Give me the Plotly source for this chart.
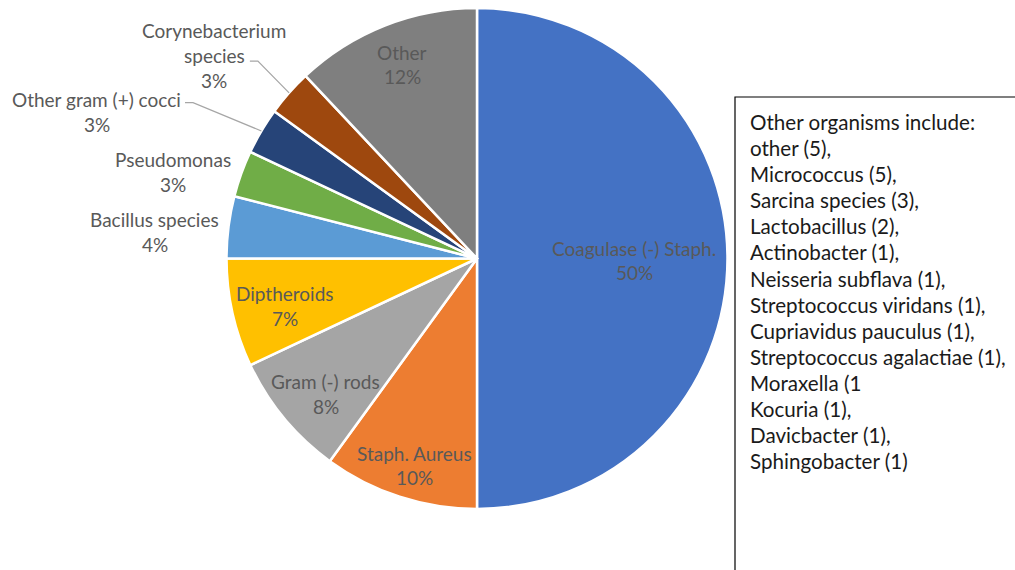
import math
import plotly.graph_objects as go

# Organism share of isolates (percent)
organisms = [
    "Coagulase (-) Staph.",
    "Staph. Aureus",
    "Gram (-) rods",
    "Diptheroids",
    "Bacillus species",
    "Pseudomonas",
    "Other gram (+) cocci",
    "Corynebacterium species",
    "Other",
]
shares = [50, 10, 8, 7, 4, 3, 3, 3, 12]

# Caption lines drawn for each slice name
label_lines = [
    ["Coagulase (-) Staph."],
    ["Staph. Aureus"],
    ["Gram (-) rods"],
    ["Diptheroids"],
    ["Bacillus species"],
    ["Pseudomonas"],
    ["Other gram (+) cocci"],
    ["Corynebacterium", "species"],
    ["Other"],
]

other_list = [
    "Other organisms include:",
    "other (5),",
    "Micrococcus (5),",
    "Sarcina species (3),",
    "Lactobacillus (2),",
    "Actinobacter (1),",
    "Neisseria subflava (1),",
    "Streptococcus viridans (1),",
    "Cupriavidus pauculus (1),",
    "Streptococcus agalactiae (1),",
    "Moraxella (1",
    "Kocuria (1),",
    "Davicbacter (1),",
    "Sphingobacter (1)",
]

colors = ["#4472C4", "#ED7D31", "#A5A5A5", "#FFC000", "#5B9BD5",
          "#70AD47", "#264478", "#9E480E", "#7F7F7F"]

W, H = 1015, 570
CX, CY, R = 477.0, 258.5, 250.5
FONT = "Lato"
LABEL_COLOR = "#595959"
LABEL_SIZE = 19
LABEL_STEP = 24.8
BOX_SIZE = 20.6
BOX_STEP = 26.1

# label placement: (radius factor, angle nudge in degrees)
placement = [
    (0.627, 0.7),
    (0.863, -1.2),
    (0.81, -2.2),
    (0.79, -1.4),
    (1.29, -2.5),
    (1.26, -3.9),
    (1.628, -9.5),
    (1.325, -3.7),
    (0.83, 0.5),
]
# leader lines: index -> (start offset from label centre in px, horizontal run)
leaders = {6: (88.5, -9, 8), 7: (35.5, 5.5, 8)}


def px(x, y):
    return x / W, 1 - y / H


fig = go.Figure()
fig.add_trace(go.Pie(
    labels=organisms,
    values=shares,
    sort=False,
    direction="clockwise",
    rotation=0,
    marker=dict(colors=colors, line=dict(color="white", width=2.5)),
    textinfo="none",
    hoverinfo="label+percent",
    showlegend=False,
    domain=dict(x=[(CX - R) / W, (CX + R) / W],
                y=[1 - (CY + R) / H, 1 - (CY - R) / H]),
))

total = sum(shares)
annotations = []
shapes = []
cum = 0.0
for i, (lines, v) in enumerate(zip(label_lines, shares)):
    mid = (cum + v / 2) / total
    cum += v
    theta = math.radians(mid * 360)
    rf, nudge = placement[i]
    t = theta + math.radians(nudge)
    lx = CX + rf * R * math.sin(t)
    ly = CY - rf * R * math.cos(t)
    pct = round(v / total * 100)
    rows = lines + [f"{pct}%"]
    n = len(rows)
    for k, row in enumerate(rows):
        ry = ly + (k - (n - 1) / 2) * LABEL_STEP
        ax, ay = px(lx, ry)
        annotations.append(dict(
            x=ax, y=ay, xref="paper", yref="paper",
            text=row, showarrow=False,
            xanchor="center", yanchor="middle", align="center",
            font=dict(family=FONT, size=LABEL_SIZE, color=LABEL_COLOR),
        ))
    if i in leaders:
        ox, oy, run = leaders[i]
        sx, sy = lx + ox, ly + oy
        ex = CX + R * math.sin(theta)
        ey = CY - R * math.cos(theta)
        p0, p1, p2 = px(sx, sy), px(sx + run, sy), px(ex, ey)
        path = f"M {p0[0]},{p0[1]} L {p1[0]},{p1[1]} L {p2[0]},{p2[1]}"
        shapes.append(dict(type="path", xref="paper", yref="paper", path=path,
                           line=dict(color="#A6A6A6", width=1.2)))

# text box listing the organisms grouped into "Other"
shapes.append(dict(type="rect", xref="paper", yref="paper",
                   x0=735 / W, x1=1.02, y0=-0.02, y1=1 - 97 / H,
                   line=dict(color="#000000", width=1.2), fillcolor="white",
                   layer="below"))
for k, row in enumerate(other_list):
    ax, ay = px(748, 122 + k * BOX_STEP)
    annotations.append(dict(
        x=ax, y=ay, xref="paper", yref="paper",
        text=row, showarrow=False,
        xanchor="left", yanchor="middle", align="left",
        font=dict(family=FONT, size=BOX_SIZE, color="#1A1A1A"),
    ))

fig.update_layout(
    width=W, height=H,
    margin=dict(l=0, r=0, t=0, b=0),
    paper_bgcolor="white", plot_bgcolor="white",
    annotations=annotations, shapes=shapes,
)

fig.write_html("out.html")
